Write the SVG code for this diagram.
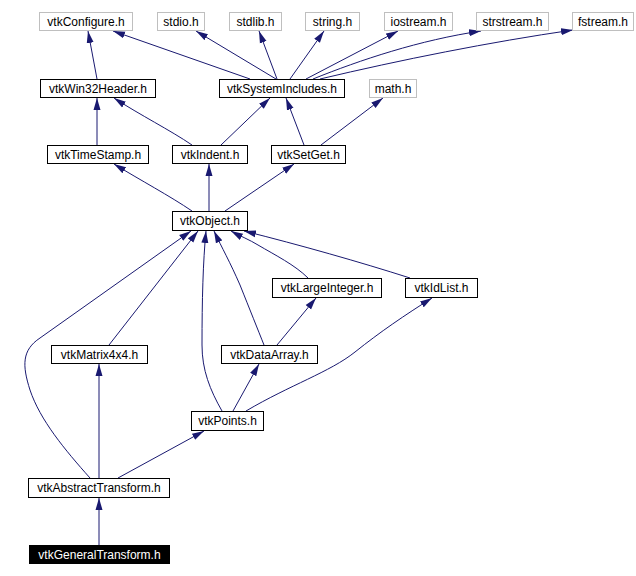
<svg xmlns="http://www.w3.org/2000/svg" width="636" height="576" viewBox="0 0 636 576">
<defs>
<marker id="ah" markerUnits="userSpaceOnUse" markerWidth="13" markerHeight="8" refX="12" refY="4" orient="auto">
<path d="M0,0.5 L12,4 L0,7.5 z" fill="#191970"/>
</marker>
<style>
.n rect{fill:#fff;stroke:#000;stroke-width:1}
.g rect{fill:#fff;stroke:#bfbfbf;stroke-width:1}
.n text,.g text{font-family:"Liberation Sans",Arial,sans-serif;font-size:12px;fill:#000;text-anchor:middle}
.hl rect{fill:#000;stroke:#000}
.hl text{fill:#fff}
#edges path{fill:none;stroke:#191970;stroke-width:1;marker-end:url(#ah)}
</style>
</defs>
<rect width="636" height="576" fill="#fff"/>
<g id="edges">
<path d="M97,79 L88,31"/>
<path d="M250,79 L113,31"/>
<path d="M276,79 L196,31"/>
<path d="M277,79 L259,31"/>
<path d="M290,79 L324,31"/>
<path d="M306,79 L398,31"/>
<path d="M313,79 C360,60 420,40 481,31"/>
<path d="M320,79 C400,60 490,42 573,30"/>
<path d="M97,145 L97,98"/>
<path d="M192,145 C170,130 140,115 114,98"/>
<path d="M221,145 L270,98"/>
<path d="M304,145 L286,98"/>
<path d="M321,145 L383,98"/>
<path d="M192,211 C170,196 140,180 114,164"/>
<path d="M209,211 L209,164"/>
<path d="M225,211 L294,164"/>
<path d="M308,278 C295,265 275,255 258,245 C250,240 240,236 231,231"/>
<path d="M410,278 C360,262 300,245 244,231"/>
<path d="M264,345 C258,330 250,310 240,285 C230,262 222,248 214,231"/>
<path d="M277,345 L316,298"/>
<path d="M233,411 L259,364"/>
<path d="M246,411 C290,385 330,372 355,352 C380,332 405,315 432,298"/>
<path d="M222,411 C210,390 202,370 202,345 C202,300 203,262 206,231"/>
<path d="M109,345 L198,231"/>
<path d="M99,478 L99,364"/>
<path d="M118,478 L204,431"/>
<path d="M99,545 L99,498"/>
<path d="M90,478 C65,450 40,420 30,390 C22,365 22,350 40,338 L191,231"/>
</g>
<g id="vtkConfigure" class="g"><rect x="39.5" y="12.5" width="93" height="18"/><text x="86" y="26">vtkConfigure.h</text></g>
<g id="stdio" class="g"><rect x="157.5" y="12.5" width="47" height="18"/><text x="181" y="26">stdio.h</text></g>
<g id="stdlib" class="g"><rect x="229.5" y="12.5" width="52" height="18"/><text x="255.5" y="26">stdlib.h</text></g>
<g id="string" class="g"><rect x="305.5" y="12.5" width="54" height="18"/><text x="332.5" y="26">string.h</text></g>
<g id="iostream" class="g"><rect x="384.5" y="12.5" width="68" height="18"/><text x="418.5" y="26">iostream.h</text></g>
<g id="strstream" class="g"><rect x="476.5" y="12.5" width="72" height="18"/><text x="512.5" y="26">strstream.h</text></g>
<g id="fstream" class="g"><rect x="572.5" y="12.5" width="61" height="18"/><text x="603" y="26">fstream.h</text></g>
<g id="vtkWin32Header" class="n"><rect x="40.5" y="79.5" width="115" height="18"/><text x="98" y="93">vtkWin32Header.h</text></g>
<g id="vtkSystemIncludes" class="n"><rect x="219.5" y="79.5" width="125" height="18"/><text x="282" y="93">vtkSystemIncludes.h</text></g>
<g id="math" class="g"><rect x="369.5" y="79.5" width="47" height="18"/><text x="393" y="93">math.h</text></g>
<g id="vtkTimeStamp" class="n"><rect x="47.5" y="145.5" width="101" height="18"/><text x="98" y="159">vtkTimeStamp.h</text></g>
<g id="vtkIndent" class="n"><rect x="172.5" y="145.5" width="75" height="18"/><text x="210" y="159">vtkIndent.h</text></g>
<g id="vtkSetGet" class="n"><rect x="271.5" y="145.5" width="74" height="18"/><text x="308.5" y="159">vtkSetGet.h</text></g>
<g id="vtkObject" class="n"><rect x="172.5" y="211.5" width="75" height="19"/><text x="210" y="225">vtkObject.h</text></g>
<g id="vtkLargeInteger" class="n"><rect x="272.5" y="278.5" width="109" height="19"/><text x="327" y="292">vtkLargeInteger.h</text></g>
<g id="vtkIdList" class="n"><rect x="405.5" y="278.5" width="72" height="19"/><text x="441.5" y="292">vtkIdList.h</text></g>
<g id="vtkMatrix4x4" class="n"><rect x="51.5" y="345.5" width="96" height="18"/><text x="99.5" y="359">vtkMatrix4x4.h</text></g>
<g id="vtkDataArray" class="n"><rect x="221.5" y="345.5" width="96" height="18"/><text x="269.5" y="359">vtkDataArray.h</text></g>
<g id="vtkPoints" class="n"><rect x="191.5" y="411.5" width="72" height="19"/><text x="227.5" y="425">vtkPoints.h</text></g>
<g id="vtkAbstractTransform" class="n"><rect x="28.5" y="478.5" width="141" height="19"/><text x="99" y="492">vtkAbstractTransform.h</text></g>
<g id="vtkGeneralTransform" class="n hl"><rect x="29.5" y="545.5" width="140" height="18"/><text x="99.5" y="559">vtkGeneralTransform.h</text></g>
</svg>
